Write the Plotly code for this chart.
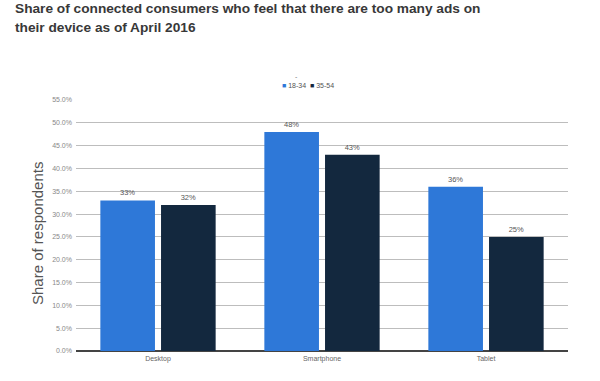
import plotly.graph_objects as go

categories = ["Desktop", "Smartphone", "Tablet"]
series_names = ["18-34", "35-54"]
values_18_34 = [33, 48, 36]
values_35_54 = [32, 43, 25]
colors = ["#2e78d8", "#13283e"]

W, H = 600, 381
L, R = 76, W - 568
T, B = 100, H - 351
PW, PH = W - L - R, H - T - B

def px_x(x):  # page px -> paper
    return (x - L) / PW

def px_y(y):
    return (H - B - y) / PH

fig = go.Figure()
for name, vals, col in zip(series_names, [values_18_34, values_35_54], colors):
    fig.add_trace(go.Bar(
        x=categories, y=vals, name=name, marker_color=col,
        marker_line_width=0, showlegend=False,
        text=[f"{v}%" for v in vals], textposition="outside",
        textfont=dict(size=7.5, color="#555555", family="Liberation Sans, Arial"),
        cliponaxis=False,
    ))

fig.update_layout(
    width=W, height=H,
    margin=dict(l=L, r=R, t=T, b=B),
    paper_bgcolor="white", plot_bgcolor="white",
    barmode="group", bargap=0.26, bargroupgap=0.1,
    font=dict(family="Liberation Sans, Arial", color="#555555"),
    showlegend=False,
)

# title (two lines)
title_lines = ["Share of connected consumers who feel that there are too many ads on",
               "their device as of April 2016"]
for i, line in enumerate(title_lines):
    fig.add_annotation(
        text=f"<b>{line}</b>",
        x=px_x(13), y=px_y(15 + 19 * i), xref="paper", yref="paper",
        xanchor="left", yanchor="bottom", yshift=-3,
        align="left", showarrow=False,
        font=dict(size=13.7, color="#383838", family="Liberation Sans, Arial"),
    )
# legend
fig.add_annotation(
    text=f"<span style='color:{colors[0]}'>■</span> {series_names[0]}  <span style='color:{colors[1]}'>■</span> {series_names[1]}",
    x=px_x(308), y=px_y(85), xref="paper", yref="paper", xanchor="center", yanchor="middle",
    showarrow=False, font=dict(size=7, color="#555555"),
)
fig.add_annotation(text="-", x=px_x(296), y=px_y(71), xref="paper", yref="paper",
                   showarrow=False, font=dict(size=7, color="#777777"))
# y-axis title
fig.add_annotation(
    text="Share of respondents", x=px_x(37), y=px_y(234), xref="paper", yref="paper",
    textangle=-90, showarrow=False, xanchor="center", yanchor="middle",
    font=dict(size=15, color="#555555", family="Liberation Sans, Arial"),
)

fig.update_yaxes(
    range=[0, 55], dtick=5, ticksuffix="%", tickformat=".1f",
    showgrid=True, gridcolor="#bdbdbd", gridwidth=1,
    zeroline=True, zerolinecolor="#444444", zerolinewidth=1.5,
    tickfont=dict(size=7, color="#888888"),
    ticks="", ticklabelstandoff=3, automargin=False,
)
fig.update_xaxes(
    tickfont=dict(size=7, color="#666666"), showline=False, automargin=False,
    ticklabelstandoff=2,
)

fig.write_html("out.html", config={"displayModeBar": False},
               post_script="document.body.style.margin='0';")
